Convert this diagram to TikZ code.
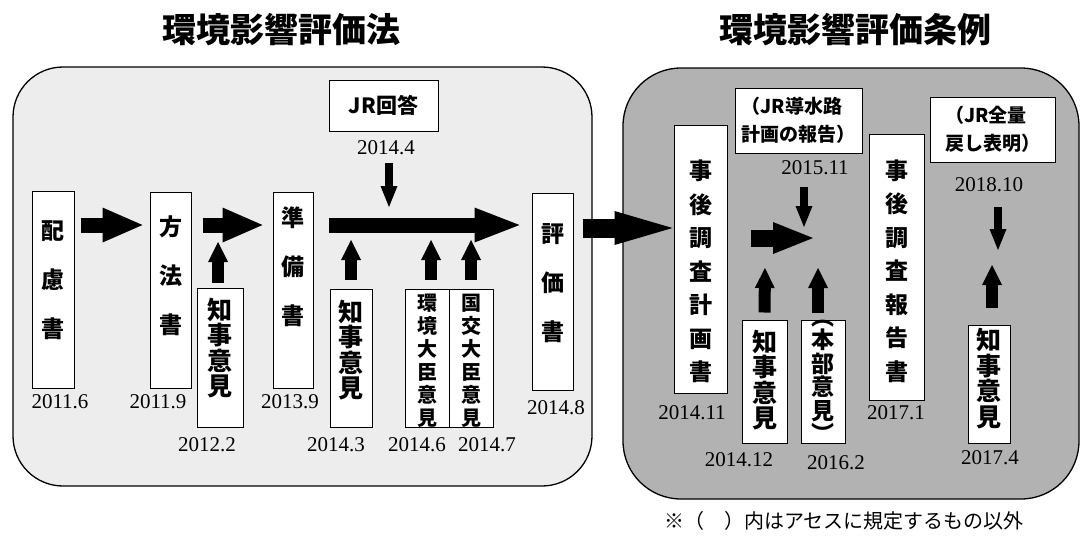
\documentclass[tikz,border=0pt]{standalone}
\usepackage{fontspec}
\usetikzlibrary{arrows.meta}
\newfontfamily\jp{Noto Sans CJK JP}
\newfontfamily\dtf{Liberation Serif}
\tikzset{
  panel/.style={draw=black, line width=1.3pt},
  docbox/.style={draw=black, fill=white, line width=1pt, inner sep=0pt},
  vtA/.style={font=\jp\bfseries\fontsize{23}{49}\selectfont, align=center, inner sep=0pt},
  vtB/.style={font=\jp\bfseries\fontsize{23}{33.5}\selectfont, align=center, inner sep=0pt},
  vtC/.style={font=\jp\bfseries\fontsize{25}{25.5}\selectfont, align=center, inner sep=0pt},
  vtD/.style={font=\jp\bfseries\fontsize{20}{23}\selectfont, align=center, inner sep=0pt},
  vtE/.style={font=\jp\bfseries\fontsize{23}{23.5}\selectfont, align=center, inner sep=0pt},
  datelbl/.style={font=\dtf\fontsize{21}{21}\selectfont, inner sep=0pt},
  titlelbl/.style={font=\jp\bfseries\fontsize{34}{34}\selectfont, inner sep=0pt},
  notebox/.style={font=\jp\bfseries\fontsize{19}{28}\selectfont, align=left},
  bigarrow/.style={draw=black, line width=15pt, -{Triangle[length=40pt,width=35pt,line width=0pt]}},
  wideharrow/.style={draw=black, line width=19pt, -{Triangle[length=58pt,width=34pt,line width=0pt]}},
  midarrow/.style={draw=black, line width=17pt, -{Triangle[length=40pt,width=32pt,line width=0pt]}},
  uparrow/.style={draw=black, line width=12pt, -{Triangle[length=20pt,width=20pt,line width=0pt]}},
  downarrow/.style={draw=black, line width=8pt, -{Triangle[length=21pt,width=17pt,line width=0pt]}},
}
\begin{document}
\begin{tikzpicture}[x=1pt,y=-1pt]
\useasboundingbox (0,0) rectangle (1081,536);

% titles
\node[titlelbl] (t1) at (281,30) {環境影響評価法};
\node[titlelbl] (t2) at (855,30) {環境影響評価条例};

% panels
\draw[panel, fill=black!7, rounded corners=50pt] (13,67) rectangle (592,486);
\draw[panel, fill=black!30, rounded corners=58pt] (623,68) rectangle (1079,499);

% ---------- left panel ----------
\node[docbox, minimum width=42pt, minimum height=197pt] (hairyo) at (53,289.5) {};
\node[vtA] (hairyoT) at (53,280) {配\\慮\\書};
\node[docbox, minimum width=41pt, minimum height=196pt] (houhou) at (170.5,290) {};
\node[vtA] (houhouT) at (170.5,276) {方\\法\\書};
\node[docbox, minimum width=40pt, minimum height=196pt] (junbi) at (293,290) {};
\node[vtA] (junbiT) at (293,267) {準\\備\\書};
\node[docbox, minimum width=41pt, minimum height=197pt] (hyouka) at (552.5,291.5) {};
\node[vtA] (hyoukaT) at (552.5,283) {評\\価\\書};

\node[docbox, minimum width=46pt, minimum height=139pt] (chiji1) at (220,357.5) {};
\node[vtC] (chiji1T) at (220,348) {知\\事\\意\\見};
\node[docbox, minimum width=42pt, minimum height=138pt] (chiji2) at (351,358) {};
\node[vtC] (chiji2T) at (351,350) {知\\事\\意\\見};
\node[docbox, minimum width=44pt, minimum height=138pt] (kankyo) at (427,358) {};
\node[vtD] (kankyoT) at (427,360.5) {環\\境\\大\\臣\\意\\見};
\node[docbox, minimum width=44pt, minimum height=138pt] (kokko) at (471,358) {};
\node[vtD] (kokkoT) at (471,360.5) {国\\交\\大\\臣\\意\\見};

\node[docbox, minimum width=109pt, minimum height=51pt, font=\jp\bfseries\fontsize{21}{21}\selectfont] (jrk) at (383.5,105.5) {JR回答};

% dates left
\node[datelbl] (d1) at (60,402) {2011.6};
\node[datelbl] (d2) at (158,402) {2011.9};
\node[datelbl] (d3) at (207,445) {2012.2};
\node[datelbl] (d4) at (290,402) {2013.9};
\node[datelbl] (d5) at (336,445) {2014.3};
\node[datelbl] (d6) at (386,148) {2014.4};
\node[datelbl] (d7) at (417,445) {2014.6};
\node[datelbl] (d8) at (487,445) {2014.7};
\node[datelbl] (d9) at (556,408) {2014.8};

% ---------- right panel ----------
\node[docbox, minimum width=53pt, minimum height=268pt] (keikaku) at (700.5,259) {};
\node[vtB] (keikakuT) at (700.5,271.5) {事\\後\\調\\査\\計\\画\\書};
\node[docbox, minimum width=55pt, minimum height=266pt] (houkoku) at (896.5,267) {};
\node[vtB] (houkokuT) at (896.5,271) {事\\後\\調\\査\\報\\告\\書};
\node[docbox, minimum width=45pt, minimum height=123pt] (chiji3) at (764.5,381.5) {};
\node[vtC] (chiji3T) at (764.5,380) {知\\事\\意\\見};
\node[docbox, minimum width=44pt, minimum height=123pt] (honbu) at (823,381.5) {};
\node[vtE] (honbuT) at (823,381.5) {︵\\本\\部\\意\\見\\︶};
\node[docbox, minimum width=42pt, minimum height=118pt] (chiji4) at (989,384) {};
\node[vtC] (chiji4T) at (989,378.5) {知\\事\\意\\見};

\node[docbox, minimum width=127pt, minimum height=65pt, notebox] (dousui) at (798.5,120.5) {（JR導水路\\計画の報告）};
\node[docbox, minimum width=125pt, minimum height=65pt, notebox] (zenryo) at (992.5,129.5) {（JR全量\\戻し表明）};

% dates right
\node[datelbl] (e1) at (692,413) {2014.11};
\node[datelbl] (e2) at (739,460) {2014.12};
\node[datelbl] (e3) at (815,168) {2015.11};
\node[datelbl] (e4) at (836,463) {2016.2};
\node[datelbl] (e5) at (896,413) {2017.1};
\node[datelbl] (e6) at (990,458) {2017.4};
\node[datelbl] (e7) at (989,185) {2018.10};

% note
\node[font=\jp\fontsize{20}{20}\selectfont, inner sep=0pt] (note) at (844,521) {※（　）内はアセスに規定するもの以外};

% ---------- arrows ----------
\coordinate (lane) at (0,225);
\coordinate (lane2) at (0,228);
\coordinate (lane3) at (0,238);
\draw[bigarrow] ([xshift=6pt]hairyo.east |- lane) -- ([xshift=-7pt]houhou.west |- lane);
\draw[bigarrow] ([xshift=11pt]houhou.east |- lane) -- ([xshift=-10pt]junbi.west |- lane);
\draw[bigarrow, -{Triangle[length=45pt,width=35pt,line width=0pt]}] ([xshift=15pt]junbi.east |- lane) -- ([xshift=-12pt]hyouka.west |- lane);
\draw[wideharrow] ([xshift=9pt]hyouka.east |- lane2) -- ([xshift=-1pt]keikaku.west |- lane2);
\coordinate (c5) at (813,238);
\draw[midarrow] ([xshift=23pt]keikaku.east |- lane3) -- (c5);

% down arrows
\coordinate (u0s) at (389,163);
\coordinate (u0e) at (389,207);
\draw[downarrow] (u0s) -- (u0e);
\coordinate (u8s) at (804,187);
\coordinate (u8e) at (804,227);
\draw[downarrow] (u8s) -- (u8e);
\coordinate (u9s) at (998,207);
\coordinate (u9e) at (998,250);
\draw[downarrow] (u9s) -- (u9e);

% up arrows
\coordinate (u1e) at (218,242);
\draw[uparrow] ([xshift=-2pt,yshift=5pt]chiji1.north) -- (u1e);
\coordinate (u2e) at (351,240);
\draw[uparrow] ([yshift=9pt]chiji2.north) -- (u2e);
\coordinate (u3e) at (431,240);
\draw[uparrow] ([xshift=4pt,yshift=9pt]kankyo.north) -- (u3e);
\coordinate (u4e) at (471,240);
\draw[uparrow] ([yshift=9pt]kokko.north) -- (u4e);
\coordinate (u5e) at (765,268);
\draw[uparrow] ([yshift=7pt]chiji3.north) -- (u5e);
\coordinate (u6e) at (818,268);
\draw[uparrow] ([xshift=-5pt,yshift=7pt]honbu.north) -- (u6e);
\coordinate (u7e) at (992,265);
\draw[uparrow] ([xshift=3pt,yshift=17pt]chiji4.north) -- (u7e);
\end{tikzpicture}
\end{document}
